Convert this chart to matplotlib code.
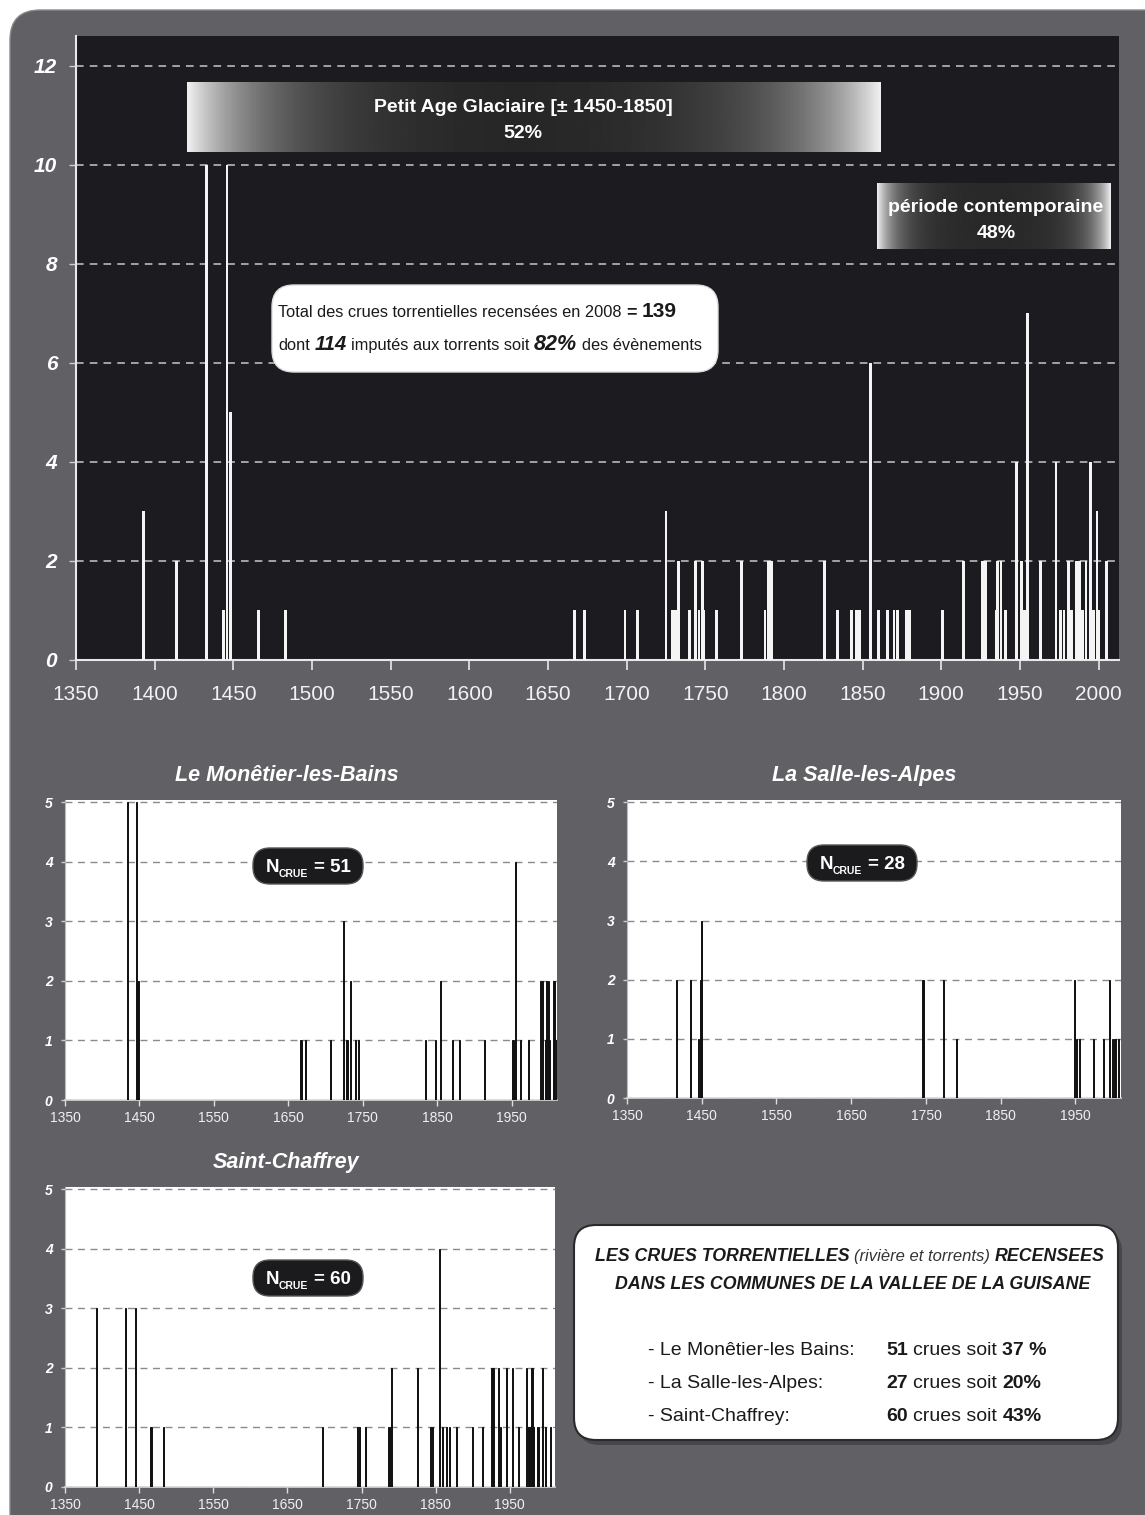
import numpy as np
import matplotlib
matplotlib.use("Agg")
import matplotlib.pyplot as plt
from matplotlib.patches import FancyBboxPatch

plt.rcParams['font.family'] = ['Liberation Sans', 'DejaVu Sans']

# --- data ------------------------------------------------------------------
main_years = [1393, 1414, 1433, 1444, 1446, 1448, 1466, 1483,
              1667, 1673, 1699, 1707, 1725, 1729, 1731, 1733, 1740,
              1744, 1746, 1748, 1749, 1757, 1773, 1788, 1790, 1792,
              1826, 1834, 1843, 1846, 1848, 1855, 1860, 1866, 1870, 1872, 1878, 1880,
              1901, 1914, 1926, 1928, 1935, 1936, 1938, 1941,
              1948, 1951, 1953, 1955, 1963,
              1973, 1976, 1978, 1981, 1983, 1986, 1988, 1990, 1992, 1995, 1997, 1999, 2000, 2005]
main_counts = [3, 2, 10, 1, 10, 5, 1, 1,
               1, 1, 1, 1, 3, 1, 1, 2, 1,
               2, 1, 2, 1, 1, 2, 1, 2, 2,
               2, 1, 1, 1, 1, 6, 1, 1, 1, 1, 1, 1,
               1, 2, 2, 2, 1, 2, 2, 1,
               4, 2, 1, 7, 2,
               4, 1, 1, 2, 1, 2, 2, 1, 2, 4, 1, 3, 1, 2]

mon_years = [1434, 1446, 1448, 1667, 1673, 1707, 1724, 1728, 1730, 1733, 1740, 1744,
             1834, 1848, 1855, 1871, 1880, 1914, 1951, 1953, 1955, 1962, 1973,
             1989, 1992, 1995, 1997, 1999, 2000, 2001, 2007, 2010]
mon_counts = [5, 5, 2, 1, 1, 1, 3, 1, 1, 2, 1, 1,
              1, 1, 2, 1, 1, 1, 1, 1, 4, 1, 1,
              2, 2, 1, 2, 1, 2, 1, 2, 1]

sal_years = [1416, 1435, 1446, 1448, 1450, 1746, 1773, 1791,
             1949, 1952, 1956, 1974, 1987, 1996, 2000, 2003, 2008]
sal_counts = [2, 2, 1, 2, 3, 2, 2, 1,
              2, 1, 1, 1, 1, 2, 1, 1, 1]

cha_years = [1392, 1432, 1445, 1466, 1483, 1697, 1744, 1747, 1755, 1787, 1791, 1825,
             1843, 1846, 1855, 1859, 1865, 1869, 1878, 1900, 1913, 1926, 1928, 1935,
             1938, 1945, 1954, 1962, 1972, 1976, 1980, 1982, 1988, 1994, 1998, 2005]
cha_counts = [3, 3, 3, 1, 1, 1, 1, 1, 1, 1, 2, 2,
              1, 1, 4, 1, 1, 1, 1, 1, 1, 2, 2, 2,
              1, 2, 2, 1, 2, 1, 2, 1, 1, 2, 1, 1]

communes = ["- Le Monêtier-les Bains:", "- La Salle-les-Alpes:", "- Saint-Chaffrey:"]
commune_n = ["51", "27", "60"]
commune_pct = ["37 %", "20%", "43%"]

W, H = 1145, 1515
PANEL = '#616165'
fig = plt.figure(figsize=(W / 100, H / 100), dpi=100)
fig.patch.set_facecolor('white')


def px_axes(x0, y0, x1, y1, **kw):
    return fig.add_axes([x0 / W, 1 - y1 / H, (x1 - x0) / W, (y1 - y0) / H], **kw)


def pixel_layer(z):
    a = px_axes(0, 0, W, H, zorder=z)
    a.set_xlim(0, W)
    a.set_ylim(H, 0)
    a.axis('off')
    a.patch.set_visible(False)
    return a


def runs_line(ax, x, y, runs, ha='left'):
    # lay out text pieces with different styles one after another
    r = fig.canvas.get_renderer()
    texts, gaps = [], []
    for s, kw in runs:
        kw = dict(kw)
        dy = kw.pop('dy', 0)
        size = kw.get('fontsize', 10)
        sp = 0.278 * size * 100 / 72
        lead = sp * (len(s) - len(s.lstrip(' ')))
        trail = sp * (len(s) - len(s.rstrip(' ')))
        t = ax.text(x, y + dy, s.strip(' '), va='baseline', ha='left', **kw)
        texts.append(t)
        gaps.append((lead, trail))
    widths = [t.get_window_extent(r).width for t in texts]
    total = sum(w + g[0] + g[1] for w, g in zip(widths, gaps))
    pos = x - total / 2 if ha == 'center' else x
    for t, w, g in zip(texts, widths, gaps):
        pos += g[0]
        t.set_x(pos)
        pos += w + g[1]


bg = pixel_layer(0)
bg.add_patch(FancyBboxPatch((10, 10), 1300, 1700, boxstyle="round,pad=0,rounding_size=30",
                            facecolor=PANEL, edgecolor='#8a8a8e', linewidth=1.0))

# --- main chart --------------------------------------------------------------
ax = px_axes(76, 36, 1119, 660, zorder=1)
ax.set_facecolor('#1c1b20')
ax.bar(main_years, main_counts, width=1.8, color='#f4f4f4', zorder=3)
ax.set_xlim(1350, 2013)
ax.set_ylim(0, 12.6)
ax.set_xticks(range(1350, 2001, 50))
ax.set_yticks(range(0, 13, 2))
ax.grid(axis='y', color='#c8c8c8', linestyle=(0, (5, 4)), linewidth=1.1)
ax.set_axisbelow(True)
for s in ['top', 'right']:
    ax.spines[s].set_visible(False)
for s in ['left', 'bottom']:
    ax.spines[s].set_color('#e8e8e8')
    ax.spines[s].set_linewidth(1.5)
ax.tick_params(axis='x', colors='#e8e8e8', labelsize=15, length=7, width=1.2, pad=11)
ax.tick_params(axis='y', colors='#d0d0d0', length=5, width=1, pad=8.5)
for lbl in ax.get_xticklabels():
    lbl.set_color('#f2f2f2')
for lbl in ax.get_yticklabels():
    lbl.set_color('white')
    lbl.set_fontsize(15)
    lbl.set_fontweight('bold')
    lbl.set_fontstyle('italic')


def small_panel(x0, y0, x1, y1, years, counts, title, title_x):
    a = px_axes(x0, y0, x1, y1, zorder=1)
    a.set_facecolor('white')
    a.bar(years, counts, width=1.5, color='#111111', edgecolor='#111111',
          linewidth=0.7, zorder=3)
    a.set_xlim(1350, 2011)
    a.set_ylim(0, 5.04)
    a.set_xticks(range(1350, 2000, 100))
    a.set_yticks(range(6))
    a.grid(axis='y', color='#8a8a8a', linestyle=(0, (5, 4)), linewidth=1.0)
    a.set_axisbelow(True)
    for s in ['top', 'right']:
        a.spines[s].set_visible(False)
    a.spines['left'].set_color('#bbbbbb')
    a.spines['left'].set_linewidth(0.8)
    a.spines['bottom'].set_color('#d8d8d8')
    a.spines['bottom'].set_linewidth(1.2)
    a.tick_params(axis='x', colors='#dddddd', labelsize=10, length=4, width=1, pad=4)
    a.tick_params(axis='y', colors='#cccccc', length=3, width=1, pad=6)
    for lbl in a.get_xticklabels():
        lbl.set_color('#f0f0f0')
    for lbl in a.get_yticklabels():
        lbl.set_color('white')
        lbl.set_fontsize(10)
        lbl.set_fontweight('bold')
        lbl.set_fontstyle('italic')
    a.set_title(title, color='white', fontsize=15.5, fontweight='bold',
                fontstyle='italic', pad=14, x=title_x)
    return a


small_panel(65, 800, 557, 1100, mon_years, mon_counts, "Le Monêtier-les-Bains", 0.451)
small_panel(627, 800, 1121, 1098, sal_years, sal_counts, "La Salle-les-Alpes", 0.48)
small_panel(65, 1187, 555, 1487, cha_years, cha_counts, "Saint-Chaffrey", 0.451)

# --- annotations on top ------------------------------------------------------
fg = pixel_layer(10)

u = np.linspace(0, 1, 400)
grad1 = 0.14 + 0.8 * np.maximum(np.exp(-u / 0.11), np.exp(-(1 - u) / 0.12))
fg.imshow(grad1[None, :], extent=(187, 881, 152, 82), aspect='auto', cmap='gray',
          vmin=0, vmax=1, zorder=2, interpolation='bilinear')
fg.text(523, 107, "Petit Age Glaciaire [± 1450-1850]", color='white', fontsize=14,
        fontweight='bold', ha='center', va='center', zorder=3)
fg.text(523, 134, "52%", color='white', fontsize=14, fontweight='bold',
        ha='center', va='center', zorder=3)

grad2 = 0.16 + 0.78 * np.maximum(np.exp(-u / 0.08), np.exp(-(1 - u) / 0.08))
fg.imshow(grad2[None, :], extent=(877, 1111, 249, 183), aspect='auto', cmap='gray',
          vmin=0, vmax=1, zorder=2, interpolation='bilinear')
fg.text(996, 207, "période contemporaine", color='white', fontsize=14,
        fontweight='bold', ha='center', va='center', zorder=3)
fg.text(996, 233, "48%", color='white', fontsize=14, fontweight='bold',
        ha='center', va='center', zorder=3)

fg.add_patch(FancyBboxPatch((272, 285), 446, 87, boxstyle="round,pad=0,rounding_size=22",
                            facecolor='white', edgecolor='#dddddd', linewidth=1, zorder=2))
reg = dict(fontsize=11.8, color='#1a1a1a', zorder=3)
runs_line(fg, 278, 317, [
    ("Total des crues torrentielles recensées en 2008", reg),
    (" = ", dict(fontsize=13, fontweight='bold', color='#1a1a1a', zorder=3)),
    ("139", dict(fontsize=15, fontweight='bold', color='#1a1a1a', zorder=3)),
])
bi = dict(fontsize=14.5, fontweight='bold', fontstyle='italic', color='#1a1a1a', zorder=3)
runs_line(fg, 278, 350, [
    ("dont ", reg), ("114", bi), (" imputés aux torrents soit ", reg),
    ("82%", dict(bi, fontsize=15.5)), (" des évènements", reg),
])

# N_CRUE badges
for cx, cy, n in [(308, 866, "51"), (862, 863, "28"), (308, 1278, "60")]:
    fg.add_patch(FancyBboxPatch((cx - 55, cy - 18), 110, 36,
                                boxstyle="round,pad=0,rounding_size=17",
                                facecolor='#1b1b1d', edgecolor='#555555', linewidth=1, zorder=2))
    big = dict(fontsize=13.5, fontweight='bold', color='white', zorder=3)
    runs_line(fg, cx, cy + 6, [
        ("N", big),
        ("CRUE", dict(fontsize=7.5, fontweight='bold', color='white', zorder=3, dy=5)),
        (" = " + n, big),
    ], ha='center')

# summary box
bg.add_patch(FancyBboxPatch((578, 1230), 544, 215, boxstyle="round,pad=0,rounding_size=22",
                            facecolor='#3c3c40', edgecolor='none', alpha=0.7))
bg.add_patch(FancyBboxPatch((574, 1225), 544, 215, boxstyle="round,pad=0,rounding_size=22",
                            facecolor='white', edgecolor='#2a2a2a', linewidth=1.5))
capsbi = dict(fontsize=12.8, fontweight='bold', fontstyle='italic', color='#1a1a1a')
runs_line(bg, 850, 1261, [
    ("LES CRUES TORRENTIELLES", capsbi),
    (" (rivière et torrents) ", dict(fontsize=12, fontstyle='italic', color='#333333')),
    ("RECENSEES", capsbi),
], ha='center')
runs_line(bg, 853, 1289, [("DANS LES COMMUNES DE LA VALLEE DE LA GUISANE", capsbi)], ha='center')

row_y = [1355, 1388, 1421]
for yy, name, n, pct in zip(row_y, communes, commune_n, commune_pct):
    bg.text(648, yy, name, fontsize=14, color='#1a1a1a', va='baseline')
    runs_line(bg, 886, yy, [
        (n, dict(fontsize=14, fontweight='bold', color='#1a1a1a')),
        (" crues soit ", dict(fontsize=14, color='#1a1a1a')),
        (pct, dict(fontsize=14, fontweight='bold', color='#1a1a1a')),
    ])

fg.set_xlim(0, W)
fg.set_ylim(H, 0)

fig.savefig('out.png', dpi=100)
